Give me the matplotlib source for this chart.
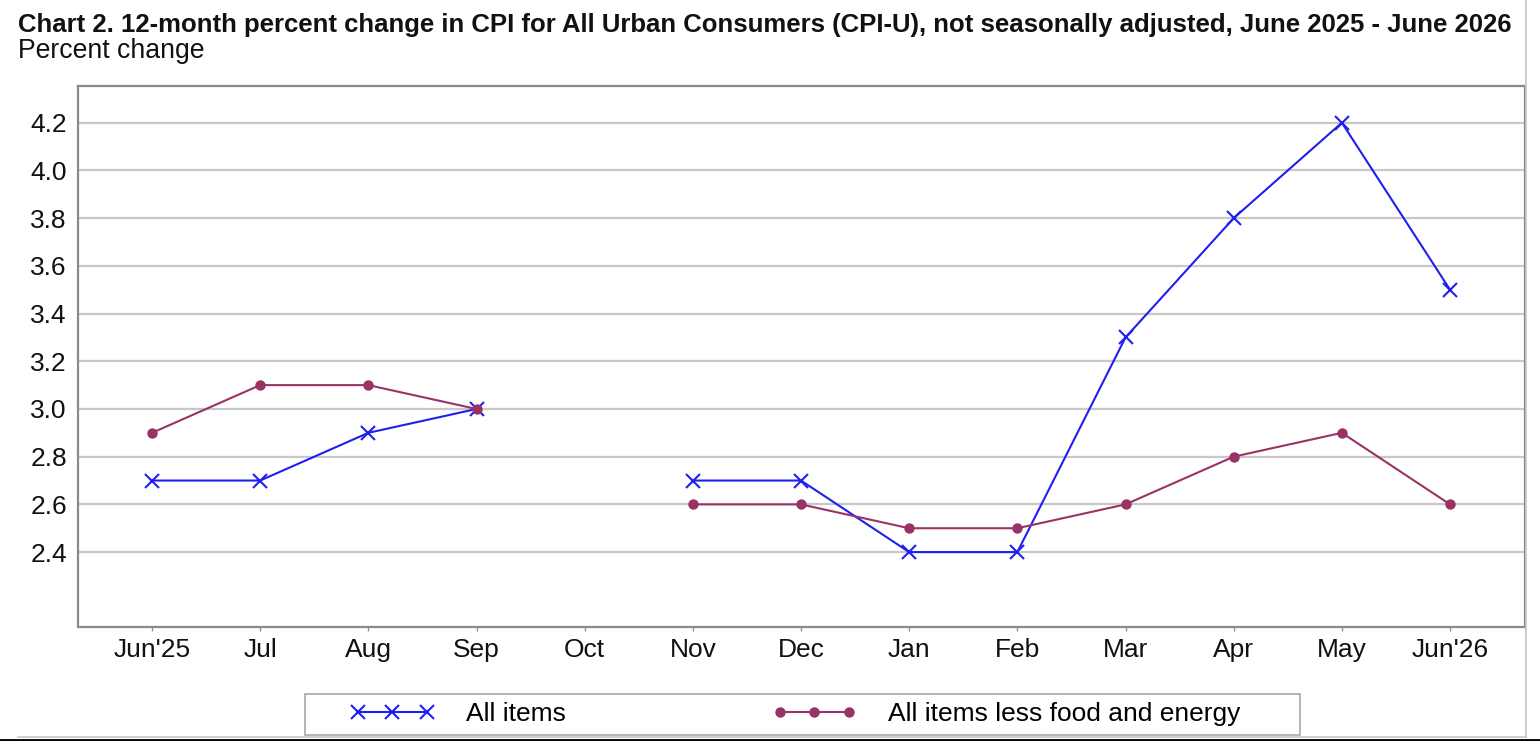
import numpy as np
import matplotlib
matplotlib.use("Agg")
import matplotlib.pyplot as plt
from matplotlib.lines import Line2D
from matplotlib.patches import Rectangle

months = ["Jun'25", "Jul", "Aug", "Sep", "Oct", "Nov", "Dec", "Jan", "Feb",
          "Mar", "Apr", "May", "Jun'26"]
all_items = [2.7, 2.7, 2.9, 3.0, np.nan, 2.7, 2.7, 2.4, 2.4, 3.3, 3.8, 4.2, 3.5]
core = [2.9, 3.1, 3.1, 3.0, np.nan, 2.6, 2.6, 2.5, 2.5, 2.6, 2.8, 2.9, 2.6]
yticks = [2.4, 2.6, 2.8, 3.0, 3.2, 3.4, 3.6, 3.8, 4.0, 4.2]
title = ("Chart 2. 12-month percent change in CPI for All Urban Consumers (CPI-U), "
         "not seasonally adjusted, June 2025 - June 2026")
subtitle = "Percent change"
series_names = ["All items", "All items less food and energy"]

W, H = 1540, 741
plt.rcParams['font.family'] = ['Liberation Sans', 'DejaVu Sans']
fig = plt.figure(figsize=(W / 100, H / 100), dpi=100)
fig.patch.set_facecolor('white')

def fx(px):
    return px / W

def fy(py):
    return (H - py) / H

ax = fig.add_axes([fx(78), fy(627), fx(1525) - fx(78), fy(86) - fy(627)])

BLUE = '#1f1fef'
PURPLE = '#993366'
x = np.arange(len(months))
ax.plot(x, all_items, color=BLUE, lw=1.5, marker='x', ms=10, mew=1.5, zorder=3)
ax.plot(x, core, color=PURPLE, lw=1.5, marker='o', ms=7.5, mew=0, zorder=4)

ax.set_xlim(-0.684, 12.693)
ax.set_ylim(2.086, 4.354)
ax.set_xticks(x)
ax.set_xticklabels(months, fontsize=19, color='#111111')
ax.set_yticks(yticks)
ax.set_yticklabels([f"{v:.1f}" for v in yticks], fontsize=19, color='#111111')
ax.tick_params(axis='y', length=0, pad=8)
ax.tick_params(axis='x', length=3, width=1, color='#909090', direction='out', pad=5)
ax.grid(axis='y', color='#c8c8c8', lw=1.6)
ax.set_axisbelow(True)
for s in ax.spines.values():
    s.set_color('#8a8a8a')
    s.set_linewidth(1.6)

t = fig.text(fx(18), fy(32), title, fontsize=17, fontweight='bold',
             family=['Liberation Sans Narrow', 'Liberation Sans', 'DejaVu Sans'],
             ha='left', va='baseline', color='#111111')
st = fig.text(fx(18), fy(58), subtitle, fontsize=15, ha='left', va='baseline',
              color='#111111')
fig.canvas.draw()
r = fig.canvas.get_renderer()
for txt, target in ((t, 1497), (st, 187)):
    w = txt.get_window_extent(r).width
    txt.set_fontsize(txt.get_fontsize() * target / w)

# legend frame
fig.add_artist(Rectangle((fx(305), fy(735)), fx(1300) - fx(305), fy(694) - fy(735),
                         transform=fig.transFigure, facecolor='white',
                         edgecolor='#a8a8a8', lw=1.2))
h1 = Line2D([], [], color=BLUE, lw=1.5, marker='x', ms=10, mew=1.5)
h2 = Line2D([], [], color=PURPLE, lw=1.5, marker='o', ms=7.5, mew=0)
for h, name, px in ((h1, series_names[0], 350), (h2, series_names[1], 772)):
    fig.legend([h], [name], loc='center left', bbox_to_anchor=(fx(px), fy(714)),
               bbox_transform=fig.transFigure, frameon=False, borderpad=0,
               borderaxespad=0, fontsize=19, handlelength=3.2, handletextpad=1.2,
               markerfirst=True, numpoints=3)

# outer border lines
fig.add_artist(Line2D([fx(1526), fx(1526)], [fy(0), fy(737)], transform=fig.transFigure,
                      color='#c8c8c8', lw=1.2))
fig.add_artist(Line2D([fx(18), fx(1526)], [fy(737), fy(737)], transform=fig.transFigure,
                      color='#c8c8c8', lw=1.2))
fig.add_artist(Line2D([0, 1], [fy(740), fy(740)], transform=fig.transFigure,
                      color='black', lw=2))

fig.savefig('out.png', dpi=100, facecolor='white')
